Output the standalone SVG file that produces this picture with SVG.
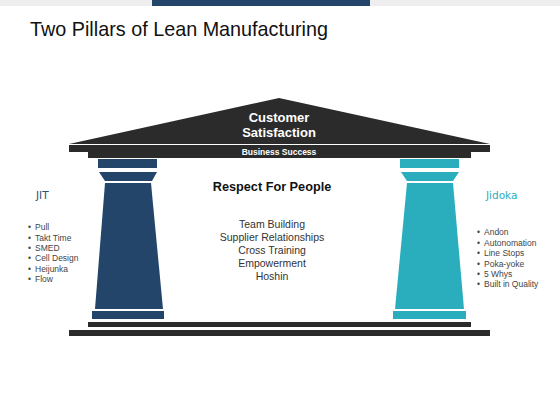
<svg xmlns="http://www.w3.org/2000/svg" width="560" height="420" viewBox="0 0 560 420">
<style>
.title{font-family:"Liberation Sans",Arial,sans-serif;font-size:21px;fill:#111}
.roof{fill:#2b2b2b}
.wt{font-family:"Liberation Sans",Arial,sans-serif;font-weight:bold;fill:#fff;text-anchor:middle}
.blue{fill:#24456a}
.teal{fill:#2aaebd}
.hd{font-family:"DejaVu Sans",Verdana,sans-serif;font-size:10.5px}
.li{font-family:"Liberation Sans",Arial,sans-serif;font-size:8.5px;fill:#444}
.ct{font-family:"Liberation Sans",Arial,sans-serif;font-size:10.5px;fill:#333;text-anchor:middle}
</style>
<rect x="0" y="0" width="560" height="6" fill="#eeeeee"/>
<rect x="152" y="0" width="218" height="6" fill="#24456a"/>
<text class="title" x="30" y="36" textLength="298" lengthAdjust="spacingAndGlyphs">Two Pillars of Lean Manufacturing</text>

<g id="roof">
<polygon class="roof" points="279,98 490,144 69,144"/>
<rect class="roof" x="69" y="145" width="421" height="7"/>
<rect class="roof" x="88" y="152" width="383" height="6"/>
<text class="wt" x="279" y="122" font-size="13">Customer</text>
<text class="wt" x="279" y="137" font-size="13">Satisfaction</text>
<text class="wt" x="279" y="154.5" font-size="8.5">Business Success</text>
</g>

<g id="pillar-jit">
<rect class="blue" x="98" y="159" width="59" height="9"/>
<polygon class="blue" points="99,172 157,172 152,181 105,181"/>
<polygon class="blue" points="105,183 151,183 163,309 95,309"/>
<rect class="blue" x="92" y="311" width="72" height="8"/>
</g>

<g id="pillar-jidoka">
<rect class="teal" x="400" y="159" width="59" height="9"/>
<polygon class="teal" points="401,172 459,172 453,181 407,181"/>
<polygon class="teal" points="407,183 453,183 464,309 395,309"/>
<rect class="teal" x="393" y="311" width="73" height="8"/>
</g>

<g id="foundation">
<rect class="roof" x="88" y="322" width="383" height="5"/>
<rect class="roof" x="69" y="330" width="421" height="6"/>
</g>

<g id="jit-list">
<text class="hd" x="36" y="199" fill="#2d4f73">JIT</text>
<text class="li" y="230"><tspan x="28">•</tspan><tspan x="35">Pull</tspan></text>
<text class="li" y="241"><tspan x="28">•</tspan><tspan x="35">Takt Time</tspan></text>
<text class="li" y="251"><tspan x="28">•</tspan><tspan x="35">SMED</tspan></text>
<text class="li" y="261"><tspan x="28">•</tspan><tspan x="35">Cell Design</tspan></text>
<text class="li" y="272"><tspan x="28">•</tspan><tspan x="35">Heijunka</tspan></text>
<text class="li" y="282"><tspan x="28">•</tspan><tspan x="35">Flow</tspan></text>
</g>

<g id="jidoka-list">
<text class="hd" x="486" y="199" fill="#2aaebd">Jidoka</text>
<text class="li" y="235"><tspan x="477">•</tspan><tspan x="484">Andon</tspan></text>
<text class="li" y="246"><tspan x="477">•</tspan><tspan x="484">Autonomation</tspan></text>
<text class="li" y="256"><tspan x="477">•</tspan><tspan x="484">Line Stops</tspan></text>
<text class="li" y="267"><tspan x="477">•</tspan><tspan x="484">Poka-yoke</tspan></text>
<text class="li" y="277"><tspan x="477">•</tspan><tspan x="484">5 Whys</tspan></text>
<text class="li" y="287"><tspan x="477">•</tspan><tspan x="484">Built in Quality</tspan></text>
</g>

<g id="respect">
<text x="272" y="191" font-family="Liberation Sans,Arial,sans-serif" font-size="12.7" font-weight="bold" fill="#111" text-anchor="middle">Respect For People</text>
<text class="ct" x="272" y="228">Team Building</text>
<text class="ct" x="272" y="241">Supplier Relationships</text>
<text class="ct" x="272" y="254">Cross Training</text>
<text class="ct" x="272" y="267">Empowerment</text>
<text class="ct" x="272" y="280">Hoshin</text>
</g>
</svg>
